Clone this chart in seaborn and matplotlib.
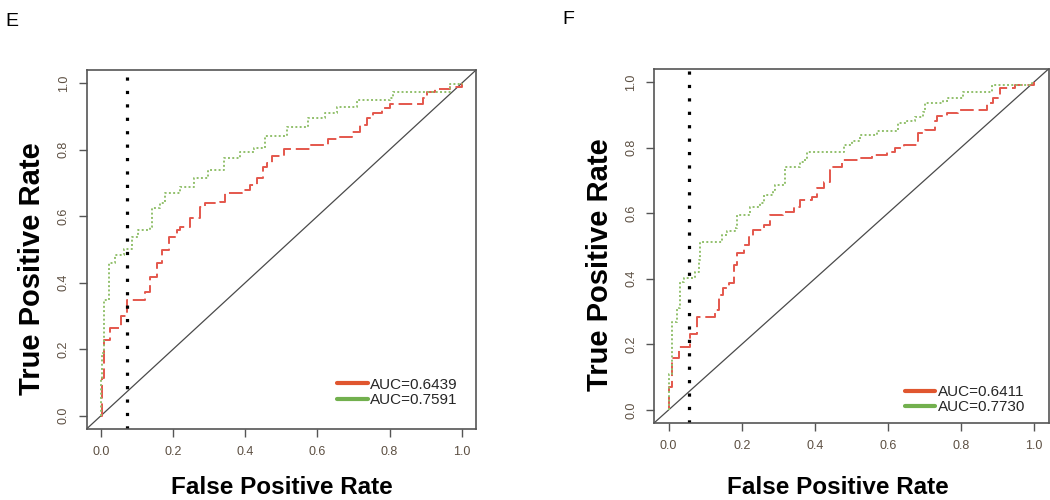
import matplotlib
matplotlib.use("Agg")
import matplotlib.pyplot as plt
from matplotlib.lines import Line2D
import seaborn as sns

# ROC curve E (step corners: fpr, tpr)
e_red_fpr = [0, 0.003, 0.009, 0.026, 0.055, 0.072, 0.123, 0.137, 0.155, 0.169, 0.19, 0.21, 0.22, 0.248, 0.275, 0.289,
             0.33, 0.344, 0.39, 0.414, 0.432, 0.45, 0.46, 0.474, 0.508, 0.58, 0.63, 0.654, 0.695, 0.718, 0.737, 0.755,
             0.778, 0.80, 0.894, 0.903, 0.926, 0.968, 1.0]
e_red_tpr = [0, 0.113, 0.228, 0.263, 0.30, 0.348, 0.373, 0.418, 0.458, 0.498, 0.539, 0.559, 0.569, 0.594, 0.629, 0.641,
             0.644, 0.669, 0.68, 0.694, 0.714, 0.749, 0.759, 0.782, 0.801, 0.814, 0.831, 0.839, 0.854, 0.875, 0.895, 0.91,
             0.925, 0.938, 0.955, 0.975, 0.982, 0.988, 1.0]
e_green_fpr = [0, 0, 0.003, 0.009, 0.021, 0.04, 0.063, 0.086, 0.104, 0.137, 0.141, 0.164, 0.178, 0.22, 0.257, 0.298,
               0.34, 0.386, 0.423, 0.455, 0.515, 0.575, 0.621, 0.654, 0.709, 0.80, 0.81, 0.968, 1.0]
e_green_tpr = [0, 0.113, 0.188, 0.348, 0.458, 0.483, 0.503, 0.539, 0.559, 0.569, 0.624, 0.639, 0.669, 0.689, 0.714, 0.739,
               0.774, 0.794, 0.804, 0.841, 0.869, 0.895, 0.91, 0.93, 0.95, 0.955, 0.975, 0.998, 1.0]

# ROC curve F
f_red_fpr = [0, 0, 0.009, 0.027, 0.059, 0.078, 0.128, 0.137, 0.15, 0.164, 0.178, 0.187, 0.205, 0.219, 0.232, 0.26,
             0.278, 0.314, 0.342, 0.36, 0.392, 0.406, 0.424, 0.442, 0.447, 0.474, 0.524, 0.556, 0.597, 0.62, 0.643,
             0.679, 0.684, 0.702, 0.729, 0.735, 0.761, 0.793, 0.871, 0.889, 0.907, 0.948, 1.0]
f_red_tpr = [0, 0.07, 0.157, 0.192, 0.233, 0.282, 0.305, 0.35, 0.371, 0.386, 0.442, 0.478, 0.503, 0.528, 0.549, 0.564,
             0.595, 0.605, 0.62, 0.64, 0.651, 0.676, 0.696, 0.732, 0.742, 0.763, 0.768, 0.778, 0.788, 0.798, 0.808,
             0.819, 0.844, 0.854, 0.88, 0.897, 0.905, 0.915, 0.936, 0.951, 0.982, 0.992, 1.0]
f_green_fpr = [0, 0, 0.009, 0.023, 0.032, 0.041, 0.073, 0.082, 0.087, 0.146, 0.16, 0.182, 0.187, 0.223, 0.251, 0.26,
               0.287, 0.292, 0.319, 0.36, 0.374, 0.378, 0.479, 0.501, 0.524, 0.57, 0.629, 0.652, 0.675, 0.697, 0.702,
               0.752, 0.766, 0.807, 0.884, 0.994, 1.0]
f_green_tpr = [0, 0.111, 0.269, 0.31, 0.39, 0.401, 0.421, 0.457, 0.513, 0.534, 0.545, 0.554, 0.595, 0.62, 0.63, 0.656,
               0.671, 0.686, 0.742, 0.757, 0.768, 0.788, 0.808, 0.819, 0.839, 0.852, 0.875, 0.88, 0.895, 0.91, 0.936,
               0.941, 0.951, 0.971, 0.992, 1.0, 1.0]

e_auc = ["AUC=0.6439", "AUC=0.7591"]
f_auc = ["AUC=0.6411", "AUC=0.7730"]
e_cutoff = 0.072
f_cutoff = 0.056
ticks = [0.0, 0.2, 0.4, 0.6, 0.8, 1.0]
tick_labels = ["0.0", "0.2", "0.4", "0.6", "0.8", "1.0"]

sns.set_style("white")
plt.rcParams["font.family"] = ["Liberation Sans", "DejaVu Sans"]

RED = "#e4574c"
GREEN = "#92c06c"
RED_LEG = "#e0562f"
GREEN_LEG = "#72b04e"
TICK_COL = "#5c4f42"


def draw_roc(ax, red_x, red_y, green_x, green_y, cutoff, labels, leg_pos, xlab_pos, ylab_x):
    ax.axline((0, 0), slope=1, color="#4a4a4a", lw=0.9)
    sns.lineplot(x=red_x, y=red_y, ax=ax, color=RED, lw=1.4, drawstyle="steps-post",
                 estimator=None, sort=False, linestyle=(0, (7, 2.5)))
    sns.lineplot(x=green_x, y=green_y, ax=ax, color=GREEN, lw=1.4, drawstyle="steps-post",
                 estimator=None, sort=False, linestyle=(0, (1, 1.2)))
    ax.axvline(cutoff, color="black", lw=2.3, linestyle=(0, (1, 3.2)), dash_capstyle="butt")

    ax.set_xlim(-0.04, 1.04)
    ax.set_ylim(-0.04, 1.04)
    ax.set_xticks(ticks)
    ax.set_xticklabels(tick_labels, color=TICK_COL, fontsize=9)
    ax.set_yticks(ticks)
    ax.set_yticklabels(tick_labels, color=TICK_COL, fontsize=9, rotation=90, va="center")
    ax.tick_params(axis="both", direction="out", length=6, width=1, color="#555555", pad=6,
                   bottom=True, left=True)
    for s in ax.spines.values():
        s.set_color("#555555")
        s.set_linewidth(1.2)

    ax.set_xlabel("False Positive Rate", fontsize=17.5, fontweight="bold", color="black")
    ax.set_ylabel("True Positive Rate", fontsize=21, fontweight="bold", color="black")
    ax.xaxis.set_label_coords(*xlab_pos)
    ax.yaxis.set_label_coords(ylab_x, 0.446)

    handles = [Line2D([], [], color=RED_LEG, lw=3), Line2D([], [], color=GREEN_LEG, lw=3)]
    ax.legend(handles, labels, loc="center left", bbox_to_anchor=leg_pos, frameon=False, fontsize=11,
              borderpad=0, borderaxespad=0, handlelength=2.0, handletextpad=0.15, labelspacing=0.1)


fig = plt.figure(figsize=(10.5, 5), dpi=100)
ax_e = fig.add_axes([0.0824, 0.142, 0.371, 0.718])
ax_f = fig.add_axes([0.6229, 0.154, 0.3757, 0.708])

draw_roc(ax_e, e_red_fpr, e_red_tpr, e_green_fpr, e_green_tpr, e_cutoff, e_auc, (0.643, 0.102),
         (0.502, -0.131), -0.104)
draw_roc(ax_f, f_red_fpr, f_red_tpr, f_green_fpr, f_green_tpr, f_cutoff, f_auc, (0.636, 0.066),
         (0.466, -0.15), -0.102)

fig.text(0.0115, 0.956, "E", fontsize=14, va="center", ha="center", color="black")
fig.text(0.541, 0.96, "F", fontsize=14, va="center", ha="center", color="black")

fig.savefig("out.png", dpi=100)
